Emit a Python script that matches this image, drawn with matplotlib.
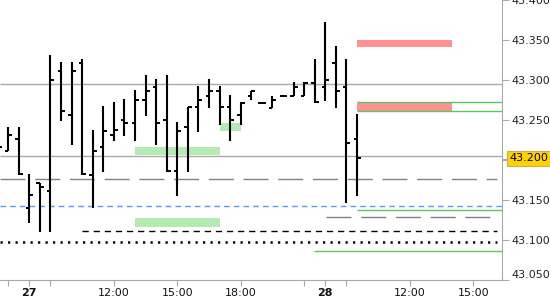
import matplotlib
matplotlib.use("Agg")
import matplotlib.pyplot as plt
import matplotlib.transforms as mtransforms
import numpy as np
from matplotlib.patches import Rectangle


# 30-minute OHLC bars
opens = [43.2125, 43.2117, 43.2259, 43.1404, 43.1709, 43.1613, 43.3113, 43.2563, 43.3216, 43.1813,
         43.2166, 43.2313, 43.2500, 43.2459, 43.2750, 43.2909, 43.2500, 43.1866, 43.2409, 43.2659,
         43.2804, 43.2866, 43.2659, 43.2563, 43.2804, 43.2709, 43.2656, 43.2804, 43.2804, 43.2804,
         43.2966, 43.2909, 43.3216, 43.2916, 43.2259]
highs = [43.2250, 43.2417, 43.2417, 43.1825, 43.1716, 43.3313, 43.3221, 43.3221, 43.3259, 43.2375,
         43.2675, 43.2729, 43.2763, 43.2875, 43.3063, 43.3009, 43.3063, 43.2471, 43.2666, 43.2925,
         43.3013, 43.2925, 43.2813, 43.2729, 43.2866, 43.2721, 43.2800, 43.2813, 43.2971, 43.2971,
         43.3259, 43.3721, 43.3425, 43.3259, 43.2575]
lows = [43.2060, 43.2117, 43.1813, 43.1209, 43.1104, 43.1104, 43.2491, 43.2188, 43.1813, 43.1396,
        43.1854, 43.2241, 43.2300, 43.2241, 43.2554, 43.2188, 43.1854, 43.1554, 43.1854, 43.2354,
        43.2646, 43.2438, 43.2241, 43.2438, 43.2750, 43.2696, 43.2644, 43.2794, 43.2804, 43.2804,
        43.2709, 43.2741, 43.2646, 43.1459, 43.1554]
closes = [43.2167, 43.2313, 43.1825, 43.1566, 43.1666, 43.3000, 43.2616, 43.3116, 43.1825, 43.2116,
          43.2366, 43.2375, 43.2459, 43.2750, 43.2866, 43.2459, 43.1866, 43.2366, 43.2659, 43.2750,
          43.2866, 43.2659, 43.2500, 43.2716, 43.2866, 43.2709, 43.2756, 43.2804, 43.2909, 43.2966,
          43.2721, 43.3000, 43.2866, 43.2209, 43.2020]

tick_positions = [1, 3, 5, 11, 17, 23, 29, 31, 33, 39, 45]
tick_labels = ["", "27", "", "12:00", "15:00", "18:00", "", "28", "", "12:00", "15:00"]
bold_labels = ["27", "28"]

y_ticks = [43.05, 43.10, 43.15, 43.20, 43.25, 43.30, 43.35, 43.40]
last_price_label = "43.200"

pivot_levels = [43.2950, 43.2055]
long_dash_levels = [43.1758]
long_dash_short_level = 43.1284
blue_level = 43.1425
black_dash_level = 43.1108
dotted_level = 43.0979
green_levels = [43.2725, 43.2613, 43.1371]
green_low_level = 43.0863

# zones: (start bar, end bar, low, high)
green_zones = [(13, 21, 43.2063, 43.2167), (13, 21, 43.1166, 43.1279), (21, 23, 43.2366, 43.2463)]
red_zones = [(34, 43, 43.3416, 43.3500), (34, 43, 43.2613, 43.2709)]

x0, x1 = 0.224, 47.72

fig = plt.figure(figsize=(5.5, 3.0), dpi=100)
fig.patch.set_facecolor("white")
ax = fig.add_axes([0.0, 1 - 280 / 300, 502 / 550, 280 / 300])
ax.set_xlim(x0, x1)
ax.set_ylim(43.05, 43.40)

# zones
for a, b, lo, hi in green_zones:
    ax.add_patch(Rectangle((a, lo), b - a, hi - lo, facecolor="#b3ebb3", edgecolor="none", zorder=1))
for a, b, lo, hi in red_zones:
    ax.add_patch(Rectangle((a, lo), b - a, hi - lo, facecolor="#ff9292", edgecolor="none", zorder=1))

# horizontal levels
for lv in pivot_levels:
    ax.hlines(lv, x0, x1, color="#a9a9a9", lw=1.0, zorder=1.5)
for lv in long_dash_levels:
    ax.hlines(lv, x0, 47.2, color="#808080", lw=1.0, linestyles=(0, (18, 7)), zorder=1.5)
ax.hlines(long_dash_short_level, 31.05, 46.8, color="#808080", lw=1.0,
          linestyles=(0, (18, 7)), zorder=1.5)
ax.hlines(blue_level, x0, x1, color="#5a96ff", lw=1.0, linestyles=(0, (4, 3)), zorder=1.5)
ax.hlines(black_dash_level, 7.95, 47.2, color="black", lw=1.0, linestyles=(0, (4.5, 3.5)), zorder=1.5)
ax.hlines(dotted_level, x0, 47.2, color="black", lw=1.8, linestyles=(0, (0.9, 2.1)), zorder=1.5)
for lv in green_levels[:2]:
    ax.hlines(lv, 34, x1, color="#5ac85a", lw=1.0, zorder=2)
ax.hlines(green_levels[2], 34, x1, color="#5ac85a", lw=1.0, zorder=2)
ax.hlines(green_low_level, 29.93, x1, color="#5ac85a", lw=1.0, zorder=2)

# OHLC bars
idx = np.arange(len(opens))
ax.vlines(idx, lows, highs, color="black", lw=1.5, zorder=3)
ax.hlines(opens, idx - 0.33, idx, color="black", lw=1.4, zorder=3)
ax.hlines(closes, idx, idx + 0.38, color="black", lw=1.4, zorder=3)

# axes styling
for side in ["left", "top"]:
    ax.spines[side].set_visible(False)
for side in ["right", "bottom"]:
    ax.spines[side].set_color("#a8a8a8")
ax.yaxis.tick_right()
ax.set_yticks(y_ticks)
ylabels = [f"{v:.3f}" for v in y_ticks]
ylabels = ["" if s == last_price_label else s for s in ylabels]
ax.set_yticklabels(ylabels)
ax.tick_params(axis="y", length=5, color="#a8a8a8", labelsize=8, labelcolor="#222222", pad=2)
ax.tick_params(axis="x", length=4, color="#a8a8a8", labelsize=8, labelcolor="#111111", pad=2)
ax.set_xticks(tick_positions)
ax.set_xticklabels(tick_labels)
for lab in ax.get_xticklabels():
    if lab.get_text() in bold_labels:
        lab.set_fontweight("bold")
ylab_objs = ax.get_yticklabels()
ylab_objs[0].set_va("bottom")
for t, v in zip(ax.yaxis.get_major_ticks(), y_ticks):
    if f"{v:.3f}" == last_price_label:
        t.tick2line.set_color("black")
        t.tick2line.set_markeredgewidth(1.6)

# current price label
trans = mtransforms.blended_transform_factory(ax.transAxes, ax.transData)
ax.text(1.0 + 7 / 502, closes[-1], last_price_label, transform=trans, ha="left", va="center",
        fontsize=8, color="black", clip_on=False, zorder=5,
        bbox=dict(boxstyle="square,pad=0.22", facecolor="#ffd200", edgecolor="#c9b04a", lw=0.8))

fig.savefig("out.png", dpi=100, facecolor="white")
